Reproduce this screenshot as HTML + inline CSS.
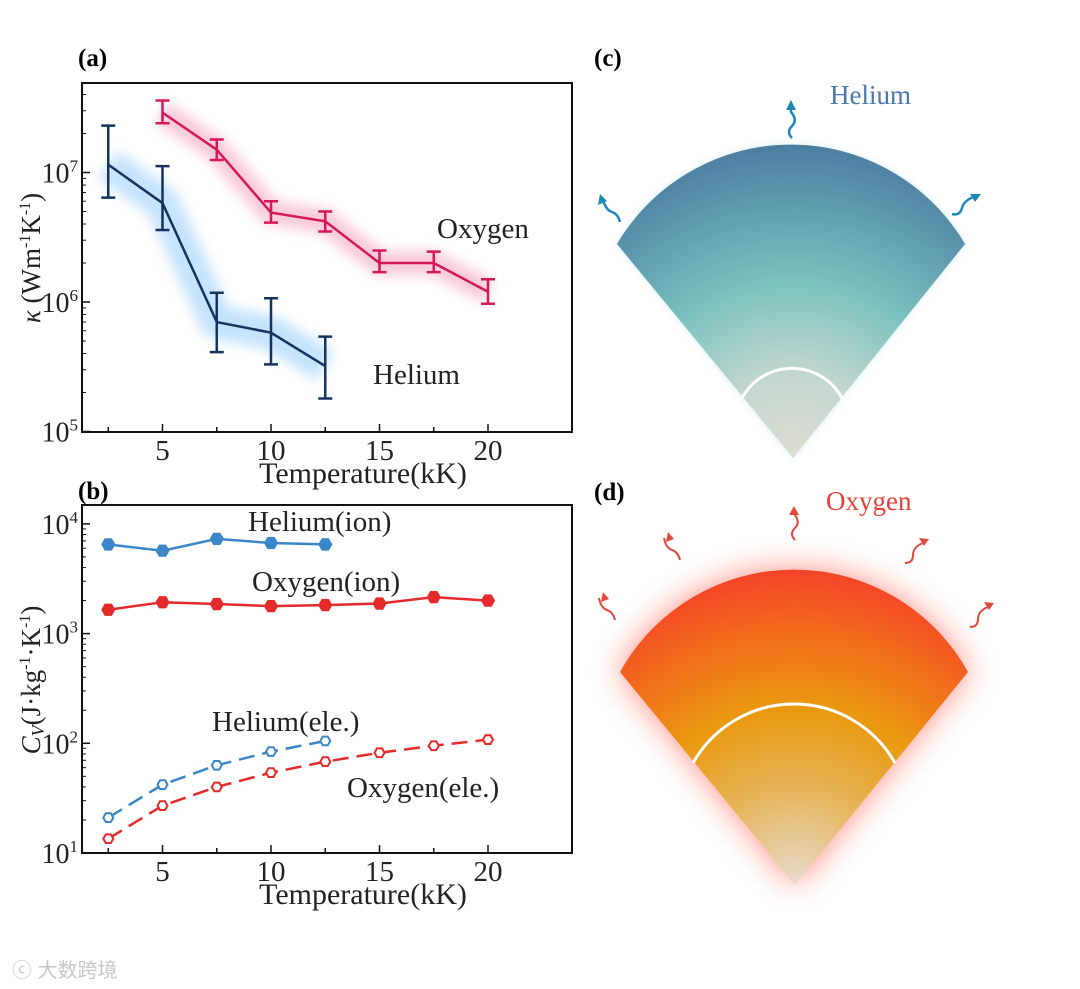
<!DOCTYPE html>
<html><head><meta charset="utf-8">
<style>
html,body{margin:0;padding:0;background:#fff;}
svg{display:block;font-family:"Liberation Serif","Noto Serif CJK SC",serif;}
</style></head>
<body>
<svg id="fig" width="1080" height="989" viewBox="0 0 1080 989" xmlns="http://www.w3.org/2000/svg">
<defs>
  <filter id="blurA" x="-20%" y="-50%" width="140%" height="200%"><feGaussianBlur stdDeviation="6"/></filter>
  <filter id="glowR" x="-30%" y="-30%" width="160%" height="160%"><feGaussianBlur stdDeviation="16"/></filter>
  <filter id="glowB" x="-30%" y="-30%" width="160%" height="160%"><feGaussianBlur stdDeviation="4"/></filter>
  <radialGradient id="gHe" gradientUnits="userSpaceOnUse" cx="793" cy="458" r="320">
    <stop offset="0" stop-color="#e0ddd3"/>
    <stop offset="0.25" stop-color="#c5d8d0"/>
    <stop offset="0.55" stop-color="#7cc2bf"/>
    <stop offset="0.8" stop-color="#5f9bb0"/>
    <stop offset="1" stop-color="#4a7a9f"/>
  </radialGradient>
  <radialGradient id="gO" gradientUnits="userSpaceOnUse" cx="795" cy="885" r="320">
    <stop offset="0" stop-color="#e8ddd0"/>
    <stop offset="0.3" stop-color="#e6b45a"/>
    <stop offset="0.55" stop-color="#ea9a10"/>
    <stop offset="0.8" stop-color="#f26a1c"/>
    <stop offset="1" stop-color="#f5402a"/>
  </radialGradient>
</defs>

<g id="panelA"></g>
<g id="panelB"></g>

<g>
  <text x="594" y="66" font-size="25" font-weight="bold">(c)</text>
  <text x="830" y="104" font-size="27" fill="#4a78a8">Helium</text>
  <path d="M793,458 L617,244 A202,202 0 0 1 965,244 Z" fill="#bfe6ea" filter="url(#glowB)" opacity="0.6"/>
  <path d="M793,458 L617,244 A202,202 0 0 1 965,244 Z" fill="url(#gHe)"/>
  <path d="M742,398 A57,57 0 0 1 842,398" fill="none" stroke="#fff" stroke-width="3"/>
  <g stroke="#1b88b5" stroke-width="2.5" fill="none">
    <path d="M792,138 q-6,-6 0,-12 q6,-6 -1,-14 l0,-8"/>
    <path d="M620,222 q-2,-8 -8,-10 q-6,-2 -9,-12"/>
    <path d="M952,214 q8,2 10,-6 q2,-8 14,-12"/>
  </g>
  <g fill="#1b88b5">
    <polygon points="791,100 786,110 796,110"/>
    <polygon points="600,194 598,205 607,201"/>
    <polygon points="981,194 970,194 975,202"/>
  </g>
</g>

<g>
  <text x="594" y="500" font-size="25" font-weight="bold">(d)</text>
  <text x="826" y="510" font-size="27" fill="#e5403a">Oxygen</text>
  <path d="M795,885 L620,672 A199,199 0 0 1 968,672 Z" fill="#ff5a4a" filter="url(#glowR)" opacity="0.7"/>
  <path d="M795,885 L620,672 A199,199 0 0 1 968,672 Z" fill="url(#gO)"/>
  <path d="M693,763 A116,116 0 0 1 895,763" fill="none" stroke="#fff" stroke-width="3"/>
  <g stroke="#e04a3e" stroke-width="2" fill="none">
    <path d="M795,540 q-6,-6 0,-12 q6,-6 -1,-14"/>
    <path d="M680,560 q-2,-8 -8,-10 q-6,-2 -8,-12"/>
    <path d="M905,563 q8,0 8,-8 q0,-8 10,-12"/>
    <path d="M615,620 q-2,-8 -8,-10 q-6,-2 -8,-12"/>
    <path d="M970,627 q8,0 8,-8 q0,-8 10,-12"/>
  </g>
  <g fill="#e04a3e">
    <polygon points="794,506 789,515 799,515"/>
    <polygon points="668,532 666,542 674,539"/>
    <polygon points="929,539 919,538 924,546"/>
    <polygon points="603,592 601,602 609,599"/>
    <polygon points="994,603 984,602 989,610"/>
  </g>
</g>

<text x="12" y="977" font-size="20" fill="#c8c8c8" font-family="Liberation Sans, Noto Sans CJK SC, sans-serif">ⓒ 大数跨境</text>

<script>
// ---- Panel (a) data ----
const tempsO = [5, 7.5, 10, 12.5, 15, 17.5, 20];
const kappaO = [2.9e7, 1.5e7, 4.9e6, 4.2e6, 2.0e6, 2.0e6, 1.2e6];
const kappaOHi = [3.6e7, 1.8e7, 6.0e6, 5.0e6, 2.5e6, 2.45e6, 1.5e6];
const kappaOLo = [2.4e7, 1.25e7, 4.1e6, 3.5e6, 1.7e6, 1.7e6, 0.97e6];
const tempsHe = [2.5, 5, 7.5, 10, 12.5];
const kappaHe = [1.15e7, 5.8e6, 7.0e5, 5.8e5, 3.2e5];
const kappaHeHi = [2.3e7, 1.12e7, 1.18e6, 1.07e6, 5.4e5];
const kappaHeLo = [6.4e6, 3.6e6, 4.1e5, 3.3e5, 1.8e5];
const xTicks = [5, 10, 15, 20];
const yTicksA = [5, 6, 7];
// ---- Panel (b) data ----
const cvHeIon = [6.5e3, 5.7e3, 7.3e3, 6.7e3, 6.5e3];
const cvOIon = [1.65e3, 1.93e3, 1.86e3, 1.78e3, 1.82e3, 1.88e3, 2.15e3, 2.0e3];
const cvHeEle = [21, 42, 63, 84, 105];
const cvOEle = [13.5, 27, 40, 54, 68, 82, 95, 108];
const tempsB = [2.5, 5, 7.5, 10, 12.5, 15, 17.5, 20];
const yTicksB = [1, 2, 3, 4];

const NS = "http://www.w3.org/2000/svg";
function mk(parent, tag, attrs, text) {
  const e = document.createElementNS(NS, tag);
  for (const k in attrs) e.setAttribute(k, attrs[k]);
  if (text !== undefined) e.textContent = text;
  parent.appendChild(e);
  return e;
}
function xS(t) { return 54 + t * 21.7; }

function axes(g, top, bottom, yPx, yTicks, minorRange) {
  const box = mk(g, "rect", {x: 82, y: top, width: 490, height: bottom - top, fill: "none", stroke: "#111", "stroke-width": 2});
  
  
  for (let t = 2.5; t <= 20; t += 2.5) {
    const major = t % 5 === 0;
    mk(g, "line", {x1: xS(t), x2: xS(t), y1: bottom, y2: bottom - (major ? 8 : 5), stroke: "#111", "stroke-width": 1.5});
  }
  xTicks.forEach(t => {
    const lab = mk(g, "text", {x: xS(t), y: bottom + 28, "font-size": 29, "text-anchor": "middle", fill: "#222"}, String(t));
    
    
  });
  const xt = mk(g, "text", {x: 363, y: bottom + 51, "font-size": 30, "text-anchor": "middle", fill: "#222"}, "Temperature(kK)");
  
  
  yTicks.forEach(p => {
    const y = yPx(Math.pow(10, p));
    mk(g, "line", {x1: 82, x2: 90, y1: y, y2: y, stroke: "#111", "stroke-width": 1.5});
    const lab = mk(g, "text", {x: 78, y: y + 10, "font-size": 28, "text-anchor": "end", fill: "#222"});
    
    
    mk(lab, "tspan", {}, "10");
    mk(lab, "tspan", {"font-size": 17, dy: -11}, String(p));
  });
  for (let p = minorRange[0]; p < minorRange[1]; p++) {
    for (let m = 2; m <= 9; m++) {
      const y = yPx(m * Math.pow(10, p));
      if (y > top && y < bottom) mk(g, "line", {x1: 82, x2: 86, y1: y, y2: y, stroke: "#111", "stroke-width": 1});
    }
  }
}

// Panel A
(function () {
  const g = document.getElementById("panelA");
  const yA = v => 302 - (Math.log10(v) - 6) * 129.5;
  const lab = mk(g, "text", {x: 78, y: 66, "font-size": 25, "font-weight": "bold"}, "(a)");
  
  
  const pO = tempsO.map((t, i) => (i ? "L" : "M") + xS(t) + "," + yA(kappaO[i])).join("");
  const pH = tempsHe.map((t, i) => (i ? "L" : "M") + xS(t) + "," + yA(kappaHe[i])).join("");
  const bO = mk(g, "path", {d: pO, fill: "none", stroke: "#f4a6c0", "stroke-width": 24, "stroke-linejoin": "round", opacity: 0.6, filter: "url(#blurA)"});
  
  
  const bH = mk(g, "path", {d: pH, fill: "none", stroke: "#9fd0fb", "stroke-width": 34, "stroke-linejoin": "round", opacity: 0.6, filter: "url(#blurA)"});
  
  
  axes(g, 83, 432, yA, yTicksA, [5, 8]);
  const lO = mk(g, "path", {d: pO, fill: "none", stroke: "#d6175a", "stroke-width": 2.5});
  
  
  const lH = mk(g, "path", {d: pH, fill: "none", stroke: "#15335e", "stroke-width": 2.5});
  
  
  function errs(ts, hi, lo, color, name) {
    ts.forEach((t, i) => {
      const x = xS(t), y1 = yA(hi[i]), y2 = yA(lo[i]);
      const e = mk(g, "path", {d: `M${x},${y1}L${x},${y2}M${x-7},${y1}L${x+7},${y1}M${x-7},${y2}L${x+7},${y2}`, stroke: color, "stroke-width": 2.5, fill: "none"});
      
      
    });
  }
  errs(tempsO, kappaOHi, kappaOLo, "#d6175a", "oxygen-error-bar");
  errs(tempsHe, kappaHeHi, kappaHeLo, "#15335e", "helium-error-bar");
  const t1 = mk(g, "text", {x: 437, y: 238, "font-size": 29, fill: "#222"}, "Oxygen");
  
  
  const t2 = mk(g, "text", {x: 373, y: 384, "font-size": 29, fill: "#222"}, "Helium");
  
  
  const yt = mk(g, "text", {transform: "translate(40,258) rotate(-90)", "font-size": 27, "text-anchor": "middle", fill: "#222"});
  
  
  mk(yt, "tspan", {"font-style": "italic"}, "κ");
  mk(yt, "tspan", {}, " (Wm");
  mk(yt, "tspan", {"font-size": 16, dy: -10}, "-1");
  mk(yt, "tspan", {dy: 10}, "K");
  mk(yt, "tspan", {"font-size": 16, dy: -10}, "-1");
  mk(yt, "tspan", {dy: 10}, ")");
})();

// Panel B
(function () {
  const g = document.getElementById("panelB");
  const yB = v => 853 - (Math.log10(v) - 1) * 109.7;
  const lab = mk(g, "text", {x: 78, y: 499, "font-size": 25, "font-weight": "bold"}, "(b)");
  
  
  axes(g, 505, 853, yB, yTicksB, [1, 4]);
  function series(vals, color, dashed, filled, name) {
    const ts = tempsB.slice(0, vals.length);
    const d = ts.map((t, i) => (i ? "L" : "M") + xS(t) + "," + yB(vals[i])).join("");
    const l = mk(g, "path", {d: d, fill: "none", stroke: color, "stroke-width": 2.5, "stroke-dasharray": dashed ? "16,8" : "none"});
    
    
    ts.forEach((t, i) => {
      const cx = xS(t), cy = yB(vals[i]);
      const r = filled ? 6.5 : 5;
      let pts = [];
      for (let k = 0; k < 6; k++) { const a = Math.PI / 3 * k; pts.push((cx + r * Math.cos(a)).toFixed(1) + "," + (cy + r * Math.sin(a)).toFixed(1)); }
      const m = mk(g, "polygon", {points: pts.join(" "), fill: filled ? color : "#fff", stroke: color, "stroke-width": filled ? 1 : 2});
      
      
    });
  }
  series(cvHeIon, "#3a86c6", false, true, "helium-ion");
  series(cvOIon, "#e42a2a", false, true, "oxygen-ion");
  series(cvHeEle, "#3a86c6", true, false, "helium-ele");
  series(cvOEle, "#e42a2a", true, false, "oxygen-ele");
  const labels = [["Helium(ion)", 248, 531, "helium-ion-label"], ["Oxygen(ion)", 252, 591, "oxygen-ion-label"], ["Helium(ele.)", 212, 731, "helium-ele-label"], ["Oxygen(ele.)", 347, 797, "oxygen-ele-label"]];
  labels.forEach(a => {
    const t = mk(g, "text", {x: a[1], y: a[2], "font-size": 29, fill: "#222"}, a[0]);
    
    
  });
  const yt = mk(g, "text", {transform: "translate(40,680) rotate(-90)", "font-size": 27, "text-anchor": "middle", fill: "#222"});
  
  
  mk(yt, "tspan", {"font-style": "italic"}, "C");
  mk(yt, "tspan", {"font-style": "italic", "font-size": 18, dy: 4}, "V");
  mk(yt, "tspan", {dy: -4}, "(J·kg");
  mk(yt, "tspan", {"font-size": 16, dy: -10}, "-1");
  mk(yt, "tspan", {dy: 10}, "·K");
  mk(yt, "tspan", {"font-size": 16, dy: -10}, "-1");
  mk(yt, "tspan", {dy: 10}, ")");
})();
</script>
</svg>
</body></html>
